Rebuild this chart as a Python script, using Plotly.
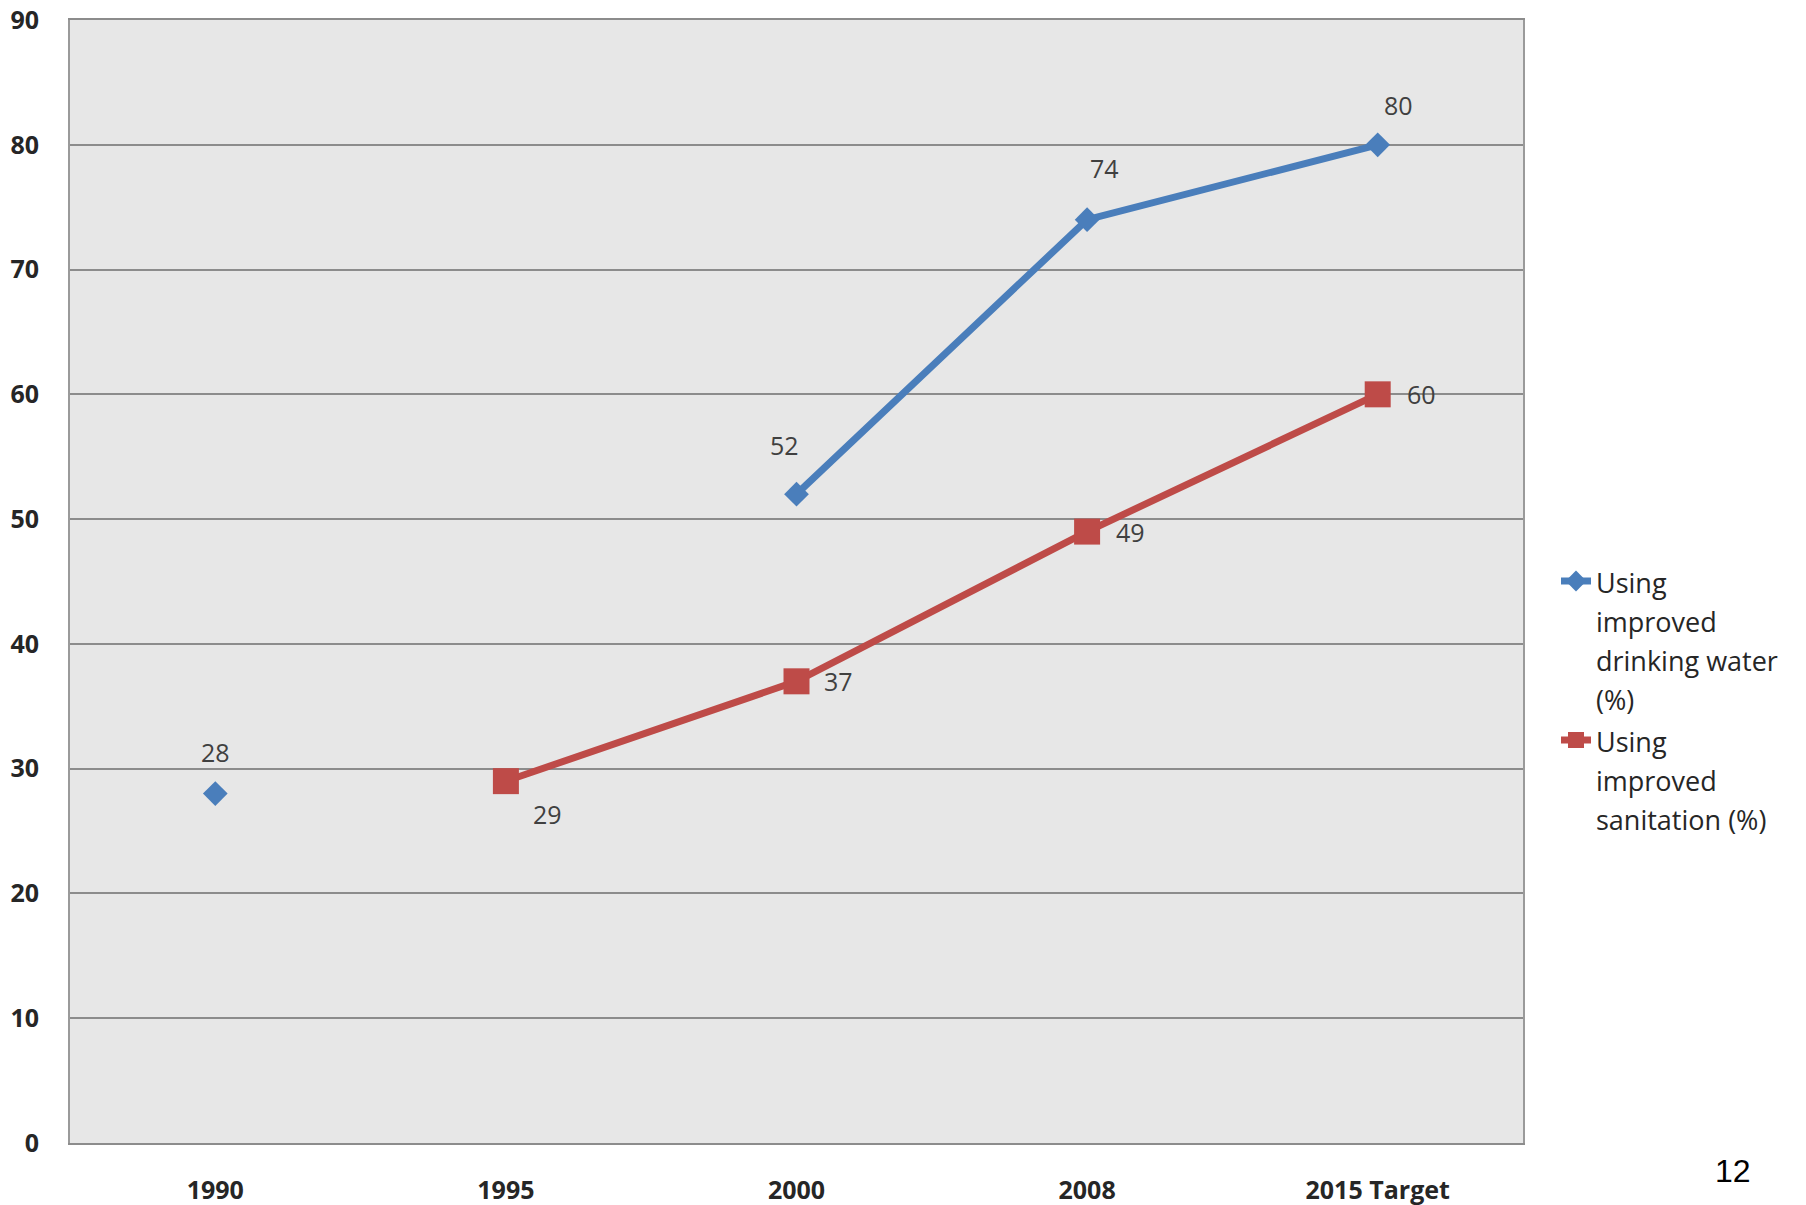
import plotly.graph_objects as go

# Survey years / target on the category axis
categories = ["1990", "1995", "2000", "2008", "2015 Target"]

# Population share (%) with access to improved services
drinking_water = [28, None, 52, 74, 80]
sanitation = [None, 29, 37, 49, 60]

series_names = [
    "Using<br>improved<br>drinking water<br>(%)",
    "Using<br>improved<br>sanitation (%)",
]

y_ticks = [0, 10, 20, 30, 40, 50, 60, 70, 80, 90]

BLUE = "#4a7ebb"
RED = "#be4b48"
LABEL_FONT = dict(family="Open Sans", size=25, color="#404040")


def legend_text(name):
    # smaller glyphs inside a larger legend font -> wider line spacing
    span = '<span style="font-size:27px">'
    return span + name.replace("<br>", "</span><br>" + span) + "</span>"


fig = go.Figure()

fig.add_trace(go.Scatter(
    x=categories, y=drinking_water, name=legend_text(series_names[0]),
    mode="lines+markers", connectgaps=False,
    line=dict(color=BLUE, width=7),
    marker=dict(symbol="diamond", size=19, color=BLUE),
))
fig.add_trace(go.Scatter(
    x=categories, y=sanitation, name=legend_text(series_names[1]),
    mode="lines+markers", connectgaps=False,
    line=dict(color=RED, width=7),
    marker=dict(symbol="square", size=26, color=RED),
))

# Data labels: pixel offsets from each point, per series
blue_shifts = [(0, 42), None, (-12, 49), (17, 52), (21, 40)]
red_shifts = [None, (42, -33), (42, 0), (43, 0), (44, 0)]

for values, shifts in ((drinking_water, blue_shifts), (sanitation, red_shifts)):
    for i, (v, sh) in enumerate(zip(values, shifts)):
        if v is None:
            continue
        fig.add_annotation(
            x=i, y=v, xref="x", yref="y", text=str(v),
            showarrow=False, xshift=sh[0], yshift=sh[1],
            font=LABEL_FONT, xanchor="center", yanchor="middle",
        )

# Slide page number
fig.add_annotation(
    x=(1733 - 70) / 1453, y=(1143 - 1171) / 1123, xref="paper", yref="paper",
    text="12", showarrow=False, xanchor="center", yanchor="middle",
    font=dict(family="Liberation Sans", size=32, color="#000000"),
)

tick_font = dict(family="Open Sans", size=25, color="#262626", weight="bold")

fig.update_layout(
    width=1806, height=1205,
    margin=dict(l=70, r=283, t=20, b=62, autoexpand=False),
    paper_bgcolor="white",
    plot_bgcolor="#e7e7e7",
    showlegend=True,
    legend=dict(
        x=(1556 - 70) / 1453, y=(1143 - 555) / 1123,
        xanchor="left", yanchor="top", valign="top",
        font=dict(family="Open Sans", size=30, color="#262626"),
        bgcolor="rgba(0,0,0,0)", tracegroupgap=0,
    ),
    xaxis=dict(
        type="category", range=[-0.5, 4.5], automargin=False,
        showgrid=False, showline=True, linecolor="#8c8c8c", linewidth=2,
        mirror=True, ticks="", tickfont=tick_font, ticklabelstandoff=24,
    ),
    yaxis=dict(
        range=[0, 90], tickvals=y_ticks, automargin=False,
        showgrid=True, gridcolor="#8c8c8c", gridwidth=2,
        showline=True, linecolor="#9a9a9a", linewidth=2, mirror=True,
        zeroline=False, ticks="", tickfont=tick_font, ticklabelstandoff=24,
    ),
)

fig.write_html("out.html")
